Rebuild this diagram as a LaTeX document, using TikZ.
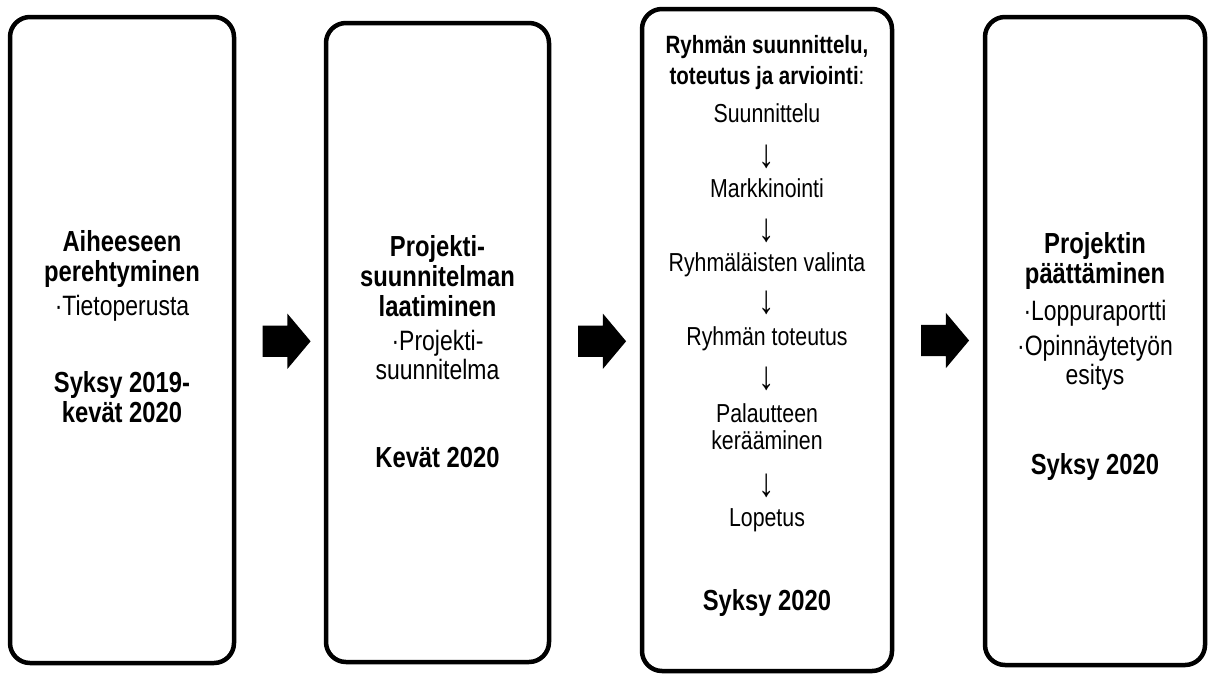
\documentclass[tikz,border=0pt]{standalone}
\usepackage{fontspec}
\setmainfont{Liberation Sans}[FakeStretch=0.82]
\usetikzlibrary{shapes.arrows, calc}

\begin{document}
\begin{tikzpicture}[x=1pt, y=-1pt,
    phase/.style={draw, line width=4.5pt, rounded corners=20pt, inner sep=0pt},
    title/.style={font=\fontsize{29}{30}\selectfont\bfseries, align=center, inner sep=0pt},
    item/.style={font=\fontsize{28}{29}\selectfont, align=center, inner sep=0pt},
    subtitle/.style={font=\fontsize{25}{31}\selectfont\bfseries, align=center, inner sep=0pt},
    flow/.style={font=\fontsize{26}{27}\selectfont, align=center, inner sep=0pt},
    down/.style={font=\fontsize{40}{40}\selectfont, inner sep=0pt},
    blockarrow/.style={single arrow, fill=black, draw=none, inner sep=0pt, inner ysep=15.5pt,
        minimum height=48pt, single arrow head extend=12pt, single arrow tip angle=100}]
    \useasboundingbox (0,0) rectangle (1209,675);

    % the four phases
    \node[phase, minimum width=224pt, minimum height=646pt] (aihe) at (122,340) {};
    \node[phase, minimum width=223pt, minimum height=639pt] (suun) at (437.5,342.5) {};
    \node[phase, minimum width=250pt, minimum height=662pt] (ryhma) at (767,340) {};
    \node[phase, minimum width=220pt, minimum height=648pt] (paat) at (1095,341) {};

    % arrows between the phases
    \node[blockarrow] (a1) at ($(aihe.east)!0.5!(suun.west)$) {};
    \node[blockarrow] (a2) at ($(suun.east)!0.5!(ryhma.west)$) {};
    \node[blockarrow] (a3) at ($(ryhma.east)!0.5!(paat.west)$) {};

    % phase 1
    \node[title] (aihe-t) at (122,259) {Aiheeseen\\perehtyminen};
    \node[item] (aihe-i) at (122,308) {·Tietoperusta};
    \node[title] (aihe-d) at (122,397) {Syksy 2019-\\kevät 2020};

    % phase 2
    \node[title] (suun-t) at (437.5,276) {Projekti-\\suunnitelman\\laatiminen};
    \node[item] (suun-i) at (437.5,355) {·Projekti-\\suunnitelma};
    \node[title] (suun-d) at (437.5,458) {Kevät 2020};

    % phase 3
    \node[subtitle] (ryhma-t) at (767,63) {Ryhmän suunnittelu,\\toteutus ja arviointi\textmd{:}};
    \foreach \txt/\yy [count=\i] in {Suunnittelu/113, Markkinointi/188,
        Ryhmäläisten valinta/265, Ryhmän toteutus/339,
        Palautteen\\kerääminen/427, Lopetus/520}
        \node[flow] (ryhma-\i) at (767,\yy) {\txt};
    \foreach \yy [count=\i] in {157, 231, 303, 379, 486}
        \node[down] (ryhma-d\i) at (767,\yy) {↓};
    \node[title] (ryhma-d) at (767,603) {Syksy 2020};

    % phase 4
    \node[title] (paat-t) at (1095,261) {Projektin\\päättäminen};
    \node[item] (paat-i1) at (1095,313) {·Loppuraportti};
    \node[item] (paat-i2) at (1095,363) {·Opinnäytetyön\\esitys};
    \node[title] (paat-d) at (1095,467) {Syksy 2020};
\end{tikzpicture}
\end{document}
